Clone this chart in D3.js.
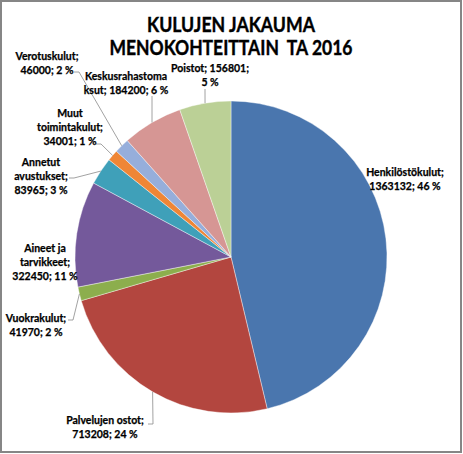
<!DOCTYPE html>
<html>
<head>
<meta charset="utf-8">
<script src="https://cdnjs.cloudflare.com/ajax/libs/d3/7.8.5/d3.min.js"></script>
<style>
  body { margin: 0; background: #fff; }
  #chart { width: 463px; height: 454px; }
  text { font-family: Lato, "Open Sans", sans-serif; font-weight: bold; fill: #000; }
</style>
</head>
<body>
<div id="chart"></div>
<script>
// data
var categories = ["Henkilöstökulut", "Palvelujen ostot", "Vuokrakulut", "Aineet ja tarvikkeet",
                  "Annetut avustukset", "Muut toimintakulut", "Verotuskulut",
                  "Keskusrahastomaksut", "Poistot"];
var values = [1363132, 713208, 41970, 322450, 83965, 34001, 46000, 184200, 156801];
var percentLabels = ["46 %", "24 %", "2 %", "11 %", "3 %", "1 %", "2 %", "6 %", "5 %"];
// label text lines, as wrapped in the original
var labelLines = [
  ["Henkilöstökulut;", "1363132; 46 %"],
  ["Palvelujen ostot;", "713208; 24 %"],
  ["Vuokrakulut;", "41970; 2 %"],
  ["Aineet ja", "tarvikkeet;", "322450; 11 %"],
  ["Annetut", "avustukset;", "83965; 3 %"],
  ["Muut", "toimintakulut;", "34001; 1 %"],
  ["Verotuskulut;", "46000; 2 %"],
  ["Keskusrahastoma", "ksut; 184200; 6 %"],
  ["Poistot; 156801;", "5 %"]
];
var titleLines = ["KULUJEN JAKAUMA", "MENOKOHTEITTAIN  TA 2016"];
var titleWidths = [168, 243];

var colors = ["#4a76ae", "#b3463f", "#8cae4d", "#74599b", "#3fa0b9",
              "#ef8636", "#96aedb", "#d69694", "#bbd096"];

// label layout: centre x, first line y, leader start (null = no leader), leader type
var labelLayout = [
  {x: 405, y: 172, lead: null},
  {x: 105, y: 420, lead: [148, 424], kind: "h"},
  {x: 36,  y: 318, lead: [68, 320], kind: "h"},
  {x: 45,  y: 248, lead: null},
  {x: 41,  y: 162, lead: [69, 178], kind: "h"},
  {x: 70,  y: 113, lead: [96, 144], kind: "h"},
  {x: 47,  y: 56,  lead: [74, 72], kind: "h"},
  {x: 126, y: 76,  lead: [152, 96], kind: "v"},
  {x: 210, y: 68,  lead: [205, 89], kind: "v"}
];

var width = 463, height = 454;
var cx = 231, cy = 257, radius = 156;

var svg = d3.select("#chart").append("svg")
    .attr("width", width)
    .attr("height", height);

// outer frame
svg.append("rect")
    .attr("x", 1).attr("y", 1)
    .attr("width", 460).attr("height", 451)
    .attr("fill", "#fff")
    .attr("stroke", "#868686")
    .attr("stroke-width", 2);

// title
svg.append("g").selectAll("text")
    .data(titleLines)
  .enter().append("text")
    .attr("x", 231)
    .attr("y", function(d, i) { return 32 + i * 23; })
    .attr("text-anchor", "middle")
    .attr("textLength", function(d, i) { return titleWidths[i]; })
    .attr("lengthAdjust", "spacingAndGlyphs")
    .style("font-size", "21px")
    .style("white-space", "pre")
    .style("stroke", "#000")
    .style("stroke-width", 0.4)
    .text(function(d) { return d; });

var pie = d3.pie().sort(null).value(function(d) { return d; });
var arcs = pie(values);
var arc = d3.arc().innerRadius(0).outerRadius(radius);

var g = svg.append("g")
    .attr("transform", "translate(" + cx + "," + cy + ")");

g.selectAll("path")
    .data(arcs)
  .enter().append("path")
    .attr("d", arc)
    .attr("fill", function(d, i) { return colors[i]; })
    .attr("stroke", "#fff")
    .attr("stroke-width", 0.4);

// leader lines
var edgeArc = d3.arc().innerRadius(radius).outerRadius(radius);
arcs.forEach(function(d, i) {
  var L = labelLayout[i];
  if (!L.lead) return;
  var p = edgeArc.centroid(d);
  var ex = cx + p[0], ey = cy + p[1];
  var pts;
  if (L.kind == "h") {
    pts = [L.lead, [L.lead[0] + 5, L.lead[1]], [ex, ey]];
  } else {
    pts = [L.lead, [ex, ey]];
  }
  svg.append("path")
      .attr("d", d3.line()(pts))
      .attr("fill", "none")
      .attr("stroke", "#8a8a8a")
      .attr("stroke-width", 0.8);
});

// data labels
var labels = svg.append("g").selectAll("g")
    .data(labelLines)
  .enter().append("g");

labels.each(function(lines, i) {
  var L = labelLayout[i];
  d3.select(this).selectAll("text")
      .data(lines)
    .enter().append("text")
      .attr("x", L.x)
      .attr("y", function(d, j) { return L.y + 4 + j * 14; })
      .attr("text-anchor", "middle")
      .style("font-size", "10.5px")
      .style("stroke", "#000")
      .style("stroke-width", 0.25)
      .text(function(d) { return d; });
});
</script>
</body>
</html>
